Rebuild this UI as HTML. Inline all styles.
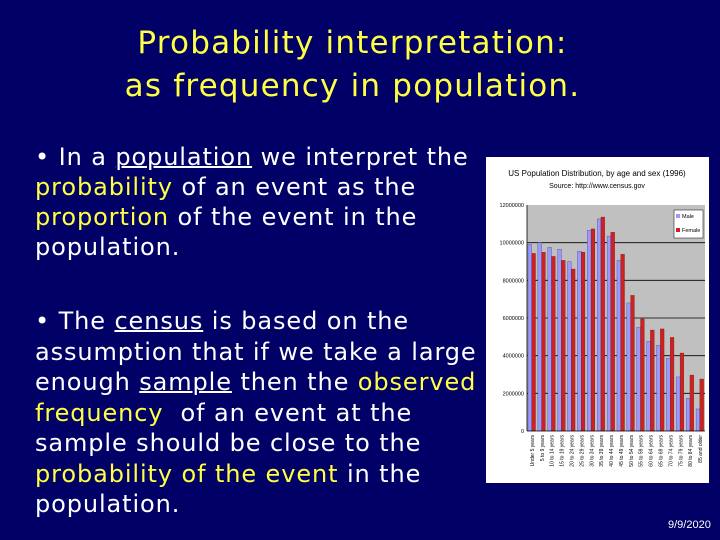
<!DOCTYPE html>
<html><head><meta charset="utf-8"><style>
body{margin:0;width:720px;height:540px;background:#000066;overflow:hidden;position:relative;font-family:"DejaVu Sans","Liberation Sans",sans-serif}
.t{position:absolute;color:#ffff44}
.title{left:0;width:705px;text-align:center;top:22px;font-size:31px;letter-spacing:1.2px;line-height:43px;color:#ffff44}
.p{position:absolute;left:35px;color:#fff;font-size:24px;letter-spacing:0.9px;line-height:30px;white-space:nowrap}
.y{color:#ffff44}
u{text-decoration-thickness:2px}
</style></head><body>
<div class="t title">Probability interpretation:<br>as frequency in population.</div>
<div class="p" style="top:142px">• In a <u>population</u> we interpret the<br><span class="y">probability</span> of an event as the<br><span class="y">proportion</span> of the event in the<br>population.</div>
<div class="p" style="top:306px;line-height:30.5px">• The <u>census</u> is based on the<br>assumption that if we take a large<br>enough <u>sample</u> then the <span class="y">observed</span><br><span class="y">frequency</span>&nbsp; of an event at the<br>sample should be close to the<br><span class="y">probability of the event</span> in the<br>population.</div>
<div style="position:absolute;left:668px;top:519px;color:#fff;font-size:11px;font-family:'Liberation Sans',sans-serif">9/9/2020</div>
<svg id="c" style="position:absolute;left:486px;top:157px" width="223" height="326"></svg>
<script>
const categories=["Under 5 years","5 to 9 years","10 to 14 years","15 to 19 years","20 to 24 years","25 to 29 years","30 to 34 years","35 to 39 years","40 to 44 years","45 to 49 years","50 to 54 years","55 to 59 years","60 to 64 years","65 to 69 years","70 to 74 years","75 to 79 years","80 to 84 years","85 and older"];
const male=[9.91,10.0,9.75,9.65,9.0,9.54,10.65,11.26,10.35,9.06,6.8,5.5,4.76,4.55,3.86,2.87,1.73,1.17];
const female=[9.43,9.49,9.27,9.06,8.6,9.5,10.73,11.36,10.55,9.38,7.2,5.95,5.36,5.42,4.97,4.14,2.97,2.76];
const yTicks=[0,2,4,6,8,10,12];
const yTickLabels=["0","2000000","4000000","6000000","8000000","10000000","12000000"];
const NS="http://www.w3.org/2000/svg";
const svg=document.getElementById('c');
function mk(t,a,p){const e=document.createElementNS(NS,t);for(const k in a)e.setAttribute(k,a[k]);(p||svg).appendChild(e);return e;}
const X0=41,X1=219,Y0=274,Y1=48;
const ys=v=>Y0-(v/12)*(Y0-Y1);
const bw=(X1-X0)/categories.length;
const xs=i=>X0+i*bw;
mk('rect',{x:0,y:0,width:223,height:326,fill:'#fff'});
let t=mk('text',{x:111,y:19,'text-anchor':'middle','font-size':8,fill:'#000','font-family':'Liberation Sans'});t.textContent='US Population Distribution, by age and sex (1996)';


t=mk('text',{x:111,y:31,'text-anchor':'middle','font-size':7,fill:'#000','font-family':'Liberation Sans'});t.textContent='Source: http://www.census.gov';


mk('rect',{x:X0,y:Y1,width:X1-X0,height:Y0-Y1,fill:'#c0c0c0'});
yTicks.forEach((v,i)=>{
  if(v>0&&v<12){const l=mk('line',{x1:X0,x2:X1,y1:ys(v),y2:ys(v),stroke:'#000','stroke-width':0.8});
  
  }
  const tx=mk('text',{x:X0-3,y:ys(v)+2,'text-anchor':'end','font-size':5.5,fill:'#000','font-family':'Liberation Sans'});
  tx.textContent=yTickLabels[i];
  
  
});
categories.forEach((c,i)=>{
  const x=xs(i);
  const m=mk('rect',{x:x+bw*0.1,y:ys(male[i]),width:bw*0.38,height:Y0-ys(male[i]),fill:'#9999ff',stroke:'#333366','stroke-width':0.3});
  
  
  const f=mk('rect',{x:x+bw*0.48,y:ys(female[i]),width:bw*0.38,height:Y0-ys(female[i]),fill:'#cc2222',stroke:'#661111','stroke-width':0.3});
  
  
  const lx=x+bw/2+2;
  const tx=mk('text',{x:lx,y:Y0+4,transform:`rotate(-90 ${lx} ${Y0+4})`,'text-anchor':'end','font-size':5,fill:'#000','font-family':'Liberation Sans'});
  tx.textContent=c;
  
  
});
mk('line',{x1:X0,x2:X0,y1:Y1,y2:Y0,stroke:'#000','stroke-width':0.8});
mk('line',{x1:X0,x2:X1,y1:Y0,y2:Y0,stroke:'#000','stroke-width':0.8});
const lg=mk('g',{});


mk('rect',{x:188,y:53,width:29,height:28,fill:'#fff',stroke:'#000','stroke-width':0.5},lg);
mk('rect',{x:190,y:57,width:4,height:4,fill:'#9999ff'},lg);
mk('rect',{x:190,y:71,width:4,height:4,fill:'#cc2222'},lg);
t=mk('text',{x:196,y:61,'font-size':5.5,fill:'#000','font-family':'Liberation Sans'},lg);t.textContent='Male';
t=mk('text',{x:196,y:75,'font-size':5.5,fill:'#000','font-family':'Liberation Sans'},lg);t.textContent='Female';
</script>
</body></html>
